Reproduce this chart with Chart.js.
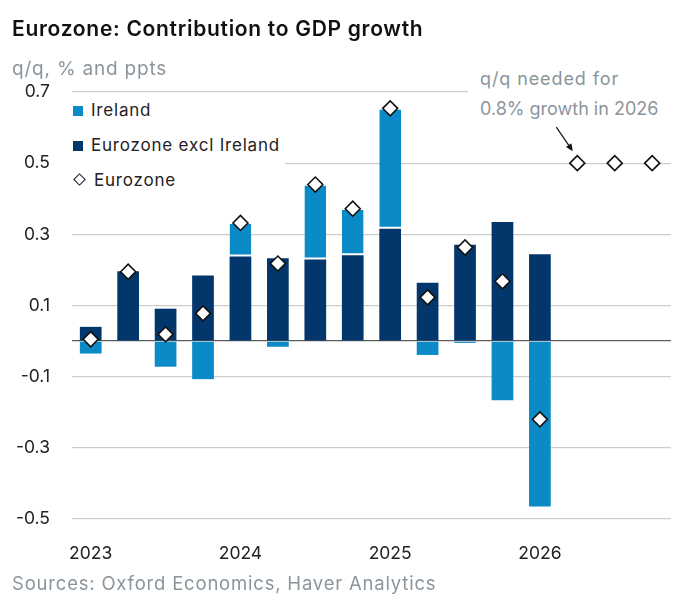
<!DOCTYPE html>
<html>
<head>
<meta charset="utf-8">
<script src="https://cdn.jsdelivr.net/npm/chart.js@4/dist/chart.umd.min.js"></script>
<style>
  html, body { margin: 0; padding: 0; background: #fff; }
  body { width: 680px; height: 605px; position: relative; overflow: hidden; font-family: Inter, "Noto Sans", sans-serif; }
  #wrap { position: absolute; left: 0; top: 0; width: 680px; height: 605px; }
  .title { position: absolute; left: 12px; top: 16px; font-size: 21px; font-weight: 600; color: #111; letter-spacing: 0.7px; }
  .sub { position: absolute; left: 12px; top: 57px; font-size: 19px; color: #8a959c; letter-spacing: 0.8px; }
  .source { position: absolute; left: 12px; top: 572px; font-size: 18.5px; color: #8a959c; letter-spacing: 0.8px; }
  .legend { position: absolute; left: 71px; top: 96px; width: 214px; height: 100px; background: #fff; }
  .legend div { position: absolute; left: 0; height: 22px; line-height: 22px; font-size: 17px; color: #222; white-space: nowrap; letter-spacing: 0.8px; }
  .legend span.sw { display: inline-block; width: 10px; height: 10px; margin: 0 8px 0 2px; vertical-align: 0px; }
  .legend span.dm { display: inline-block; width: 7px; height: 7px; margin: 0 10px 0 4px; border: 1.5px solid #111; transform: rotate(45deg); vertical-align: 2px; background: #fff; }
  .note { position: absolute; left: 468px; top: 64px; width: 205px; height: 60px; background: #fff; }
  .note div { position: absolute; left: 12px; font-size: 18px; color: #8a959c; white-space: nowrap; }
</style>
</head>
<body>
<div id="wrap"><canvas id="chart" width="680" height="605"></canvas></div>
<div class="title">Eurozone: Contribution to GDP growth</div>
<div class="sub">q/q, % and ppts</div>
<div class="legend">
  <div style="top:3px"><span class="sw" style="background:#0a8bc8"></span>Ireland</div>
  <div style="top:38px"><span class="sw" style="background:#03366a"></span>Eurozone excl Ireland</div>
  <div style="top:73px"><span class="dm"></span>Eurozone</div>
</div>
<div class="note">
  <div style="top:4px; letter-spacing:0.9px">q/q needed for</div>
  <div style="top:34px">0.8% growth in 2026</div>
</div>
<div class="source">Sources: Oxford Economics, Haver Analytics</div>
<script>
const quarters = ['2023Q1', '2023Q2', '2023Q3', '2023Q4',
                  '2024Q1', '2024Q2', '2024Q3', '2024Q4',
                  '2025Q1', '2025Q2', '2025Q3', '2025Q4',
                  '2026Q1', '2026Q2', '2026Q3', '2026Q4'];

// contributions, ppts
const exIreland = [0.040, 0.196, 0.091, 0.184, 0.238, 0.233, 0.229, 0.241,
                   0.316, 0.164, 0.271, 0.335, 0.244, null, null, null];
const ireland   = [-0.035, 0.000, -0.072, -0.107, 0.092, -0.016, 0.208, 0.128,
                   0.335, -0.039, -0.005, -0.166, -0.465, null, null, null];
// eurozone q/q, last three = needed for 0.8% growth in 2026
const eurozone  = [0.005, 0.195, 0.019, 0.078, 0.332, 0.218, 0.440, 0.372,
                   0.654, 0.123, 0.263, 0.168, -0.220, 0.5, 0.5, 0.5];

const yTicks = [-0.5, -0.3, -0.1, 0.1, 0.3, 0.5, 0.7];

const LIGHT = '#0a8bc8';
const DARK = '#03366a';

// little arrow pointing at the first "needed" diamond
const arrowPlugin = {
  id: 'arrow',
  afterDatasetsDraw(chart) {
    const meta = chart.getDatasetMeta(2);
    const pt = meta.data[13];
    if (!pt) return;
    const ctx = chart.ctx;
    const tipX = pt.x - 4.5, tipY = pt.y - 12;
    const tailX = pt.x - 21, tailY = pt.y - 36;
    const ang = Math.atan2(tipY - tailY, tipX - tailX);
    ctx.save();
    ctx.strokeStyle = '#111';
    ctx.fillStyle = '#111';
    ctx.lineWidth = 1.2;
    ctx.beginPath();
    ctx.moveTo(tailX, tailY);
    ctx.lineTo(tipX - 5 * Math.cos(ang), tipY - 5 * Math.sin(ang));
    ctx.stroke();
    ctx.beginPath();
    ctx.moveTo(tipX, tipY);
    ctx.lineTo(tipX - 8 * Math.cos(ang - 0.42), tipY - 8 * Math.sin(ang - 0.42));
    ctx.lineTo(tipX - 8 * Math.cos(ang + 0.42), tipY - 8 * Math.sin(ang + 0.42));
    ctx.closePath();
    ctx.fill();
    ctx.restore();
  }
};

new Chart(document.getElementById('chart'), {
  type: 'bar',
  data: {
    labels: quarters,
    datasets: [
      {
        label: 'Eurozone excl Ireland',
        data: exIreland,
        backgroundColor: DARK,
        borderWidth: 0,
        stack: 'gdp',
        order: 2
      },
      {
        label: 'Ireland',
        data: ireland,
        backgroundColor: LIGHT,
        borderColor: '#ffffff',
        borderSkipped: false,
        borderWidth: ctx => (ctx.raw > 0 ? { top: 0, left: 0, right: 0, bottom: 2 } : 0),
        stack: 'gdp',
        order: 2
      },
      {
        type: 'line',
        label: 'Eurozone',
        data: eurozone,
        showLine: false,
        stack: 'line',
        pointStyle: 'rectRot',
        pointRadius: 7.5,
        pointBackgroundColor: '#ffffff',
        pointBorderColor: '#111111',
        pointBorderWidth: 1.6,
        order: 0
      }
    ]
  },
  options: {
    responsive: false,
    animation: false,
    devicePixelRatio: 1,
    layout: { padding: { top: 92, right: 9, bottom: 36, left: 0 } },
    datasets: { bar: { barPercentage: 0.58, categoryPercentage: 1 } },
    scales: {
      x: {
        stacked: true,
        grid: { display: false },
        border: { display: false },
        afterFit: s => { s.height = 50; },
        ticks: {
          autoSkip: false,
          maxRotation: 0,
          padding: 16,
          color: '#222',
          font: { family: 'Inter', size: 17.5 },
          callback: (v, i) => (quarters[i].endsWith('Q1') ? quarters[i].slice(0, 4) : '')
        }
      },
      y: {
        stacked: true,
        min: -0.5,
        max: 0.7,
        afterBuildTicks: s => {
          s.ticks = yTicks.concat([0]).map(v => ({ value: v }));
        },
        afterFit: s => { s.width = 72; },
        border: { display: false },
        grid: {
          drawTicks: false,
          color: ctx => (ctx.tick && ctx.tick.value === 0 ? '#5c5c5c' : '#cdcdcd'),
          lineWidth: 1.3
        },
        ticks: {
          padding: 22,
          color: '#222',
          font: { family: 'Inter', size: 17.5 },
          callback: v => (v === 0 ? '' : v.toFixed(1))
        }
      }
    },
    plugins: {
      legend: { display: false },
      tooltip: { enabled: false }
    }
  },
  plugins: [arrowPlugin]
});
</script>
</body>
</html>
